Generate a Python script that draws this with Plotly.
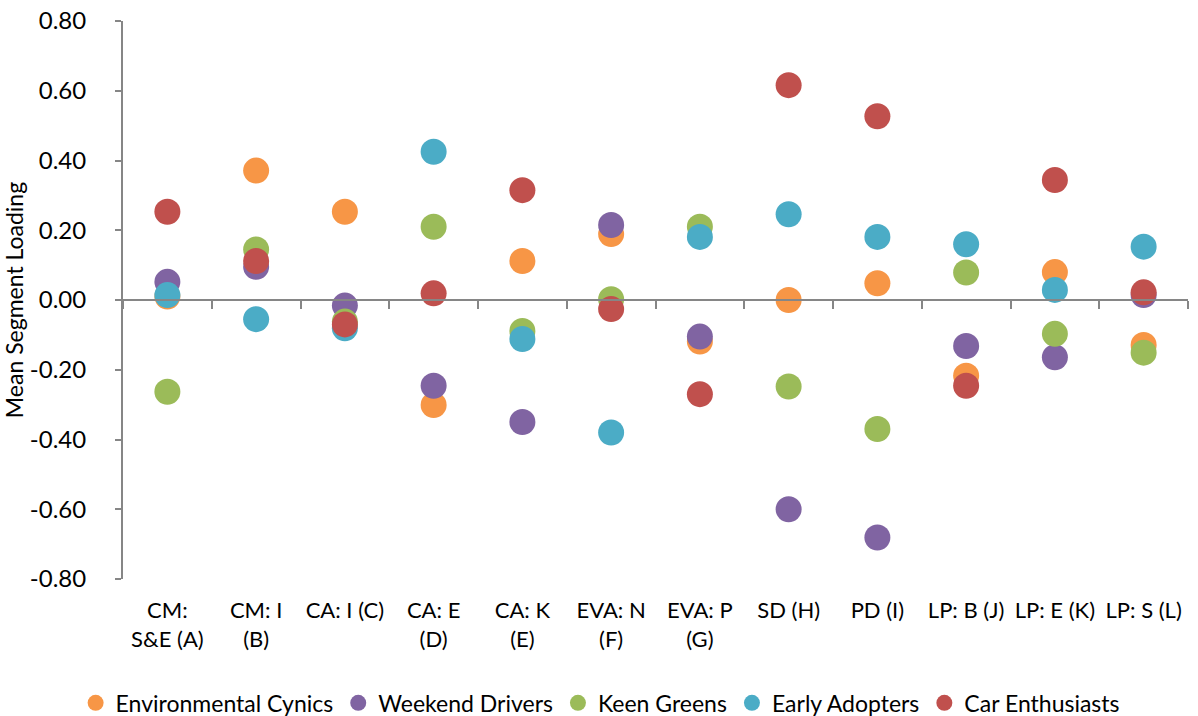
import plotly.graph_objects as go

categories = [
    "CM:<br>S&E (A)", "CM: I<br>(B)", "CA: I (C)", "CA: E<br>(D)", "CA: K<br>(E)",
    "EVA: N<br>(F)", "EVA: P<br>(G)", "SD (H)", "PD (I)", "LP: B (J)",
    "LP: E (K)", "LP: S (L)",
]

environmental_cynics = [0.010, 0.371, 0.253, -0.301, 0.112, 0.189, -0.119, 0.000, 0.048, -0.217, 0.080, -0.129]
weekend_drivers = [0.052, 0.095, -0.016, -0.246, -0.350, 0.215, -0.105, -0.600, -0.681, -0.132, -0.164, 0.014]
keen_greens = [-0.263, 0.145, -0.062, 0.210, -0.089, 0.002, 0.210, -0.248, -0.370, 0.079, -0.097, -0.151]
early_adopters = [0.014, -0.055, -0.081, 0.425, -0.112, -0.380, 0.181, 0.246, 0.181, 0.160, 0.029, 0.153]
car_enthusiasts = [0.253, 0.112, -0.070, 0.019, 0.315, -0.026, -0.270, 0.616, 0.527, -0.246, 0.344, 0.022]

y_tick_values = [-0.8, -0.6, -0.4, -0.2, 0.0, 0.2, 0.4, 0.6, 0.8]
y_tick_labels = ["-0.80", "-0.60", "-0.40", "-0.20", "0.00", "0.20", "0.40", "0.60", "0.80"]

series = [
    ("Environmental Cynics", environmental_cynics, "#F79646"),
    ("Weekend Drivers", weekend_drivers, "#8064A2"),
    ("Keen Greens", keen_greens, "#9BBB59"),
    ("Early Adopters", early_adopters, "#4BACC6"),
    ("Car Enthusiasts", car_enthusiasts, "#C0504D"),
]

FONT = "Lato"
AXIS_GREY = "#868686"

fig = go.Figure()
for name, values, color in series:
    fig.add_trace(go.Scatter(
        x=categories, y=values, mode="markers", name=name,
        marker=dict(size=26, color=color, line=dict(width=0)),
    ))

# invisible trace that carries the category axis drawn through zero
fig.add_trace(go.Scatter(
    x=categories, y=[0] * len(categories), xaxis="x2", mode="markers",
    marker=dict(opacity=0), showlegend=False, hoverinfo="skip",
))

fig.update_layout(
    width=1198, height=716,
    margin=dict(l=123, r=10, t=21, b=137, autoexpand=False),
    paper_bgcolor="white", plot_bgcolor="white",
    font=dict(family=FONT, size=23, color="black"),
    showlegend=True,
    legend=dict(
        orientation="h", x=0.448, xanchor="center", y=-0.222, yanchor="middle",
        font=dict(family=FONT, size=23), tracegroupgap=0,
    ),
    xaxis=dict(
        type="category", categoryorder="array", categoryarray=categories,
        showline=False, showgrid=False, zeroline=False, ticks="",
        tickfont=dict(family=FONT, size=22), range=[-0.5, 11.5],
        tickangle=0, ticklabelstandoff=16,
    ),
    xaxis2=dict(
        type="category", categoryorder="array", categoryarray=categories,
        overlaying="x", matches="x", anchor="free", position=0.5,
        showline=True, linecolor=AXIS_GREY, linewidth=2,
        ticks="outside", ticklen=8, tickwidth=2, tickcolor=AXIS_GREY,
        tickson="boundaries", showticklabels=False, showgrid=False, zeroline=False,
    ),
    yaxis=dict(
        range=[-0.8, 0.8], tickmode="array",
        tickvals=y_tick_values, ticktext=y_tick_labels,
        showline=True, linecolor=AXIS_GREY, linewidth=2,
        ticks="outside", ticklen=6, tickwidth=2, tickcolor=AXIS_GREY,
        showgrid=False, zeroline=False,
        tickfont=dict(family=FONT, size=24), ticklabelstandoff=24,
        title=dict(text="Mean Segment Loading", font=dict(family=FONT, size=23), standoff=2),
    ),
)

fig.write_html("out.html")
